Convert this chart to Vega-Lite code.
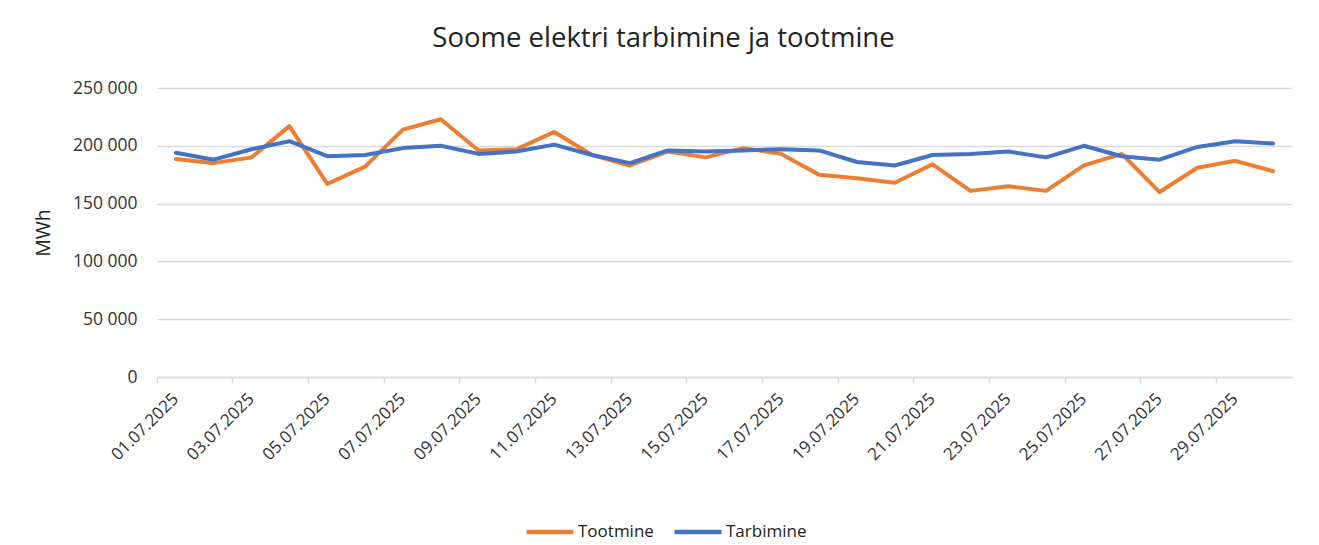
{
  "$schema": "https://vega.github.io/schema/vega-lite/v6.json",
  "autosize": {"type": "none"},
  "width": 1135,
  "height": 289,
  "padding": {"left": 157, "top": 88, "right": 27, "bottom": 168},
  "background": "white",
  "config": {
    "locale": {"number": {"decimal": ",", "thousands": " ", "grouping": [3], "currency": ["", " €"]}},
    "view": {"stroke": null},
    "font": "Open Sans"
  },
  "title": {
    "text": "Soome elektri tarbimine ja tootmine",
    "fontSize": 27.5,
    "fontWeight": "normal",
    "color": "#222222",
    "anchor": "middle",
    "dx": -61,
    "offset": 27,
    "font": "Open Sans"
  },
  "data": {
    "values": [
      {"date": "01.07.2025", "Tootmine": 188600, "Tarbimine": 194000},
      {"date": "02.07.2025", "Tootmine": 185000, "Tarbimine": 188000},
      {"date": "03.07.2025", "Tootmine": 190000, "Tarbimine": 197000},
      {"date": "04.07.2025", "Tootmine": 217000, "Tarbimine": 204000},
      {"date": "05.07.2025", "Tootmine": 167000, "Tarbimine": 191000},
      {"date": "06.07.2025", "Tootmine": 182000, "Tarbimine": 192000},
      {"date": "07.07.2025", "Tootmine": 214000, "Tarbimine": 198000},
      {"date": "08.07.2025", "Tootmine": 223000, "Tarbimine": 200000},
      {"date": "09.07.2025", "Tootmine": 196000, "Tarbimine": 193000},
      {"date": "10.07.2025", "Tootmine": 197000, "Tarbimine": 195000},
      {"date": "11.07.2025", "Tootmine": 212000, "Tarbimine": 201000},
      {"date": "12.07.2025", "Tootmine": 192000, "Tarbimine": 192000},
      {"date": "13.07.2025", "Tootmine": 183000, "Tarbimine": 185000},
      {"date": "14.07.2025", "Tootmine": 195000, "Tarbimine": 196000},
      {"date": "15.07.2025", "Tootmine": 190000, "Tarbimine": 195000},
      {"date": "16.07.2025", "Tootmine": 198000, "Tarbimine": 196000},
      {"date": "17.07.2025", "Tootmine": 193000, "Tarbimine": 197000},
      {"date": "18.07.2025", "Tootmine": 175000, "Tarbimine": 196000},
      {"date": "19.07.2025", "Tootmine": 172000, "Tarbimine": 186000},
      {"date": "20.07.2025", "Tootmine": 168000, "Tarbimine": 183000},
      {"date": "21.07.2025", "Tootmine": 184000, "Tarbimine": 192000},
      {"date": "22.07.2025", "Tootmine": 161000, "Tarbimine": 193000},
      {"date": "23.07.2025", "Tootmine": 165000, "Tarbimine": 195000},
      {"date": "24.07.2025", "Tootmine": 161000, "Tarbimine": 190000},
      {"date": "25.07.2025", "Tootmine": 183000, "Tarbimine": 200000},
      {"date": "26.07.2025", "Tootmine": 193000, "Tarbimine": 191000},
      {"date": "27.07.2025", "Tootmine": 160000, "Tarbimine": 188000},
      {"date": "28.07.2025", "Tootmine": 181000, "Tarbimine": 199000},
      {"date": "29.07.2025", "Tootmine": 187000, "Tarbimine": 204000},
      {"date": "30.07.2025", "Tootmine": 178000, "Tarbimine": 202000}
    ]
  },
  "transform": [{"fold": ["Tootmine", "Tarbimine"], "as": ["series", "value"]}],
  "layer": [
    {
      "mark": {"type": "line", "strokeWidth": 4, "strokeJoin": "round", "strokeCap": "round"},
      "encoding": {
        "x": {
          "field": "date",
          "type": "ordinal",
          "sort": null,
          "scale": {"type": "band", "paddingInner": 0, "paddingOuter": 0},
          "axis": {
            "orient": "bottom",
            "title": null,
            "values": ["01.07.2025", "03.07.2025", "05.07.2025", "07.07.2025", "09.07.2025", "11.07.2025", "13.07.2025", "15.07.2025", "17.07.2025", "19.07.2025", "21.07.2025", "23.07.2025", "25.07.2025", "27.07.2025", "29.07.2025"],
            "labelAngle": -45,
            "labelAlign": "right",
            "labelBaseline": "middle",
            "labelFontSize": 17,
            "labelColor": "#333333",
            "labelPadding": 19,
            "domainColor": "#d9d9d9",
            "domainWidth": 1.5,
            "ticks": false,
            "grid": false
          }
        },
        "y": {
          "field": "value",
          "type": "quantitative",
          "scale": {"domain": [0, 250000], "nice": false},
          "axis": {
            "title": "MWh",
            "titleFontSize": 19.5,
            "titleFontWeight": "normal",
            "titleColor": "#222222",
            "titlePadding": 19,
            "values": [0, 50000, 100000, 150000, 200000, 250000],
            "format": ",d",
            "labelFontSize": 17.5,
            "labelColor": "#333333",
            "labelPadding": 20,
            "domain": false,
            "ticks": false,
            "gridColor": "#d9d9d9",
            "gridWidth": 1.5
          }
        },
        "color": {
          "field": "series",
          "type": "nominal",
          "sort": ["Tootmine", "Tarbimine"],
          "scale": {"domain": ["Tootmine", "Tarbimine"], "range": ["#ED7D31", "#4472C4"]},
          "legend": {
            "title": null,
            "orient": "none",
            "direction": "horizontal",
            "legendX": 367,
            "legendY": 418,
            "symbolType": "stroke",
            "symbolStrokeWidth": 4.5,
            "symbolSize": 2200,
            "labelFontSize": 17,
            "labelColor": "#222222",
            "labelOffset": 2,
            "columnPadding": 11
          }
        }
      }
    },
    {
      "mark": {"type": "line", "strokeOpacity": 0},
      "encoding": {
        "x": {
          "field": "date",
          "type": "ordinal",
          "sort": null,
          "axis": {
            "orient": "bottom",
            "title": null,
            "values": ["01.07.2025", "03.07.2025", "05.07.2025", "07.07.2025", "09.07.2025", "11.07.2025", "13.07.2025", "15.07.2025", "17.07.2025", "19.07.2025", "21.07.2025", "23.07.2025", "25.07.2025", "27.07.2025", "29.07.2025"],
            "bandPosition": 0,
            "labels": false,
            "domain": false,
            "grid": false,
            "tickColor": "#d9d9d9",
            "tickWidth": 1.5,
            "tickSize": 6
          }
        },
        "y": {"field": "value", "type": "quantitative"},
        "detail": {"field": "series", "type": "nominal"}
      }
    }
  ],
  "resolve": {"axis": {"x": "independent"}}
}
